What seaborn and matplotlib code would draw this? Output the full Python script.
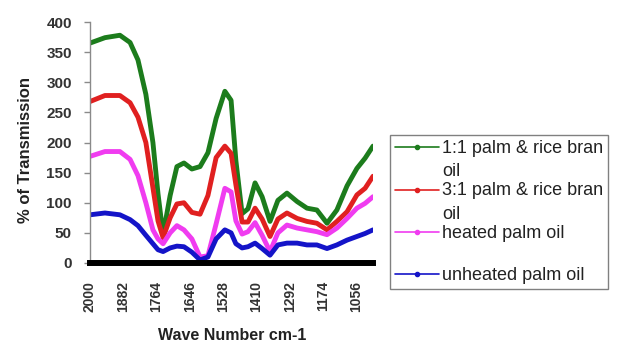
import numpy as np
import pandas as pd
import matplotlib
matplotlib.use("Agg")
import matplotlib.pyplot as plt
import seaborn as sns
from matplotlib.lines import Line2D

# ---- data ----
wave = [2000, 1947, 1894, 1858, 1830, 1802, 1777, 1759, 1741, 1716, 1692, 1667,
        1639, 1610, 1582, 1553, 1522, 1500, 1483, 1461, 1440, 1415, 1390, 1362,
        1334, 1302, 1266, 1231, 1196, 1160, 1125, 1089, 1054, 1025, 997]
green = [365, 374, 378, 366, 337, 280, 200, 115, 47, 112, 160, 166,
         156, 160, 183, 240, 285, 270, 170, 82, 90, 133, 110, 69,
         104, 116, 102, 91, 88, 66, 88, 128, 157, 174, 194]
red = [268, 278, 278, 266, 242, 200, 125, 70, 42, 75, 98, 100,
       84, 81, 112, 175, 194, 182, 130, 68, 68, 91, 73, 44,
       73, 83, 74, 69, 66, 55, 69, 85, 113, 124, 144]
magenta = [177, 185, 185, 172, 145, 100, 55, 40, 32, 50, 62, 55,
           40, 10, 12, 65, 124, 118, 70, 48, 52, 67, 46, 19,
           50, 63, 58, 55, 52, 47, 58, 74, 91, 99, 110]
blue = [80, 83, 80, 72, 62, 46, 32, 22, 19, 25, 28, 27,
        18, 5, 10, 40, 55, 50, 32, 25, 27, 33, 24, 13,
        30, 33, 33, 30, 30, 24, 30, 38, 44, 49, 55]

series_names = ["1:1 palm & rice bran\noil", "3:1 palm & rice bran\noil",
                "heated palm oil\n", "unheated palm oil"]
series_values = [green, red, magenta, blue]
series_colors = ["#1c7c1c", "#e02020", "#f03cf0", "#1414c8"]

xtick_values = [2000, 1882, 1764, 1646, 1528, 1410, 1292, 1174, 1056]
ytick_values = [0, 50, 100, 150, 200, 250, 300, 350, 400]

rows = []
for name, vals in zip(series_names, series_values):
    for w, v in zip(wave, vals):
        rows.append({"wave": w, "value": v, "series": name})
df = pd.DataFrame(rows)

sns.set_theme(style="white")
plt.rcParams["font.family"] = ["Liberation Sans", "DejaVu Sans"]

fig = plt.figure(figsize=(6.19, 3.44), dpi=100)
ax = fig.add_axes([90 / 619, 1 - 263 / 344, 283 / 619, 241 / 344])

sns.lineplot(data=df, x="wave", y="value", hue="series",
             hue_order=series_names, palette=series_colors,
             linewidth=3.5, ax=ax, legend=False,
             solid_joinstyle="round", solid_capstyle="round")

ax.set_xlim(2000, 997)
ax.set_ylim(0, 400)
ax.set_xticks(xtick_values)
ax.set_xticklabels([str(v) for v in xtick_values], rotation=90)
ax.set_yticks(ytick_values)
ax.set_yticklabels([str(v) for v in ytick_values])
for t in ax.get_yticklabels() + ax.get_xticklabels():
    t.set_fontweight("bold")

for s in ["top", "right"]:
    ax.spines[s].set_visible(False)
ax.spines["left"].set_color("#8a8a8a")
ax.spines["left"].set_linewidth(1.0)
ax.spines["bottom"].set_color("black")
ax.spines["bottom"].set_linewidth(4.3)

ax.tick_params(axis="y", direction="out", length=4, width=1, color="#8a8a8a",
               pad=9, labelsize=11, labelcolor="#333333", left=True)
ax.tick_params(axis="x", length=0, pad=13, labelsize=10, labelcolor="#333333")

ax.set_xlabel("Wave Number cm-1", fontsize=11.5, fontweight="bold", color="#222222")
ax.set_ylabel("% of Transmission", fontsize=12, fontweight="bold", color="#222222")
ax.xaxis.set_label_coords(0.502, -0.27)
ax.yaxis.set_label_coords(-0.20, 0.469)

handles = [Line2D([], [], color=c, lw=1.2, marker="o", markersize=3)
           for c in series_colors]
fs = 13
ls = 1.52
leg = fig.legend(handles, series_names, loc="upper left",
                 bbox_to_anchor=(390 / 619, 1 - 135 / 344),
                 fontsize=fs, frameon=True, fancybox=False, framealpha=1,
                 edgecolor="#808080", borderpad=0.25, handlelength=2.45,
                 handletextpad=0.2, labelspacing=0.1, borderaxespad=0)
leg.get_frame().set_linewidth(1.0)
for t in leg.get_texts():
    t.set_linespacing(ls)
    t.set_color("#222222")
dy = 9.2
for ln, name in zip(leg.get_lines(), series_names):
    if "\n" in name:
        ln.set_ydata(np.asarray(ln.get_ydata(), dtype=float) + dy)

fig.savefig("out.png", dpi=100, facecolor="white")
